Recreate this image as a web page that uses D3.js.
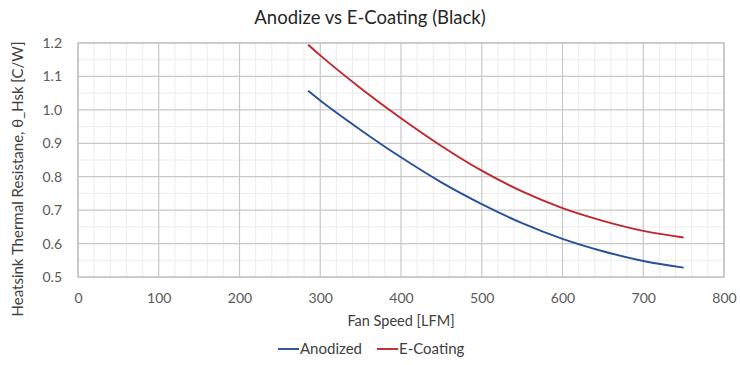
<!DOCTYPE html>
<html><head><meta charset="utf-8">
<script src="https://cdn.jsdelivr.net/npm/d3@7"></script>
<style>body{margin:0;background:#fff}</style>
</head><body>
<script>
const fanSpeed = [285, 300, 350, 400, 450, 500, 550, 600, 650, 700, 750];
const anodized = [1.057, 1.028, 0.940, 0.858, 0.783, 0.718, 0.661, 0.614, 0.577, 0.548, 0.528];
const eCoating = [1.195, 1.163, 1.065, 0.975, 0.892, 0.818, 0.756, 0.706, 0.668, 0.638, 0.618];
const xTicks = [0, 100, 200, 300, 400, 500, 600, 700, 800];
const yTicks = [0.5, 0.6, 0.7, 0.8, 0.9, 1.0, 1.1, 1.2];
const seriesNames = ["Anodized", "E-Coating"];
const seriesColors = ["#27509b", "#c0272d"];

const W = 740, H = 365;
const font = "Lato, 'Open Sans', sans-serif";
const svg = d3.select("body").append("svg").attr("width", W).attr("height", H);
const x = d3.scaleLinear().domain([0, 800]).range([78, 724]);
const y = d3.scaleLinear().domain([0.5, 1.2]).range([277, 43]);

// minor grid
const g = svg.append("g");
g.selectAll(".mx").data(d3.range(0, 801, 20).filter(v => v % 100 !== 0)).join("line")
  .attr("x1", d => x(d)).attr("x2", d => x(d)).attr("y1", y(1.2)).attr("y2", y(0.5))
  .attr("stroke", "#ececec").attr("stroke-width", 1);
g.selectAll(".my").data([0.55,0.65,0.75,0.85,0.95,1.05,1.15]).join("line")
  .attr("y1", d => y(d)).attr("y2", d => y(d)).attr("x1", x(0)).attr("x2", x(800))
  .attr("stroke", "#ececec").attr("stroke-width", 1);
// major grid
g.selectAll(".Mx").data(xTicks).join("line")
  .attr("x1", d => x(d)).attr("x2", d => x(d)).attr("y1", y(1.2)).attr("y2", y(0.5))
  .attr("stroke", "#c8c8c8").attr("stroke-width", 1.2);
g.selectAll(".My").data(yTicks).join("line")
  .attr("y1", d => y(d)).attr("y2", d => y(d)).attr("x1", x(0)).attr("x2", x(800))
  .attr("stroke", "#c8c8c8").attr("stroke-width", 1.2);
svg.append("rect").attr("x", x(0)).attr("y", y(1.2)).attr("width", x(800)-x(0)).attr("height", y(0.5)-y(1.2))
  .attr("fill", "none").attr("stroke", "#bdbdbd").attr("stroke-width", 1.2);

// axes via d3 axis
const xAxis = d3.axisBottom(x).tickValues(xTicks).tickSize(0).tickPadding(16).tickFormat(d3.format("d"));
const xg = svg.append("g").attr("transform", `translate(0,${y(0.5)})`).call(xAxis);
const yAxis = d3.axisLeft(y).tickValues(yTicks).tickSize(0).tickPadding(16).tickFormat(d3.format(".1f"));
const yg = svg.append("g").attr("transform", `translate(${x(0)},0)`).call(yAxis);
[xg, yg].forEach(a => {
  a.select(".domain").remove();
  a.selectAll("text").attr("font-family", font).attr("font-size", 14).attr("fill", "#595959");
});

// lines
const line = d3.line().x((d, i) => x(fanSpeed[i])).y(d => y(d)).curve(d3.curveMonotoneX);
[anodized, eCoating].forEach((s, i) => {
  svg.append("path").datum(s).attr("d", line).attr("fill", "none")
    .attr("stroke", seriesColors[i]).attr("stroke-width", 1.9);
});

// titles
svg.append("text").attr("x", 370).attr("y", 24).attr("text-anchor", "middle")
  .attr("font-family", font).attr("font-size", 18.5).attr("fill", "#262626").text("Anodize vs E-Coating (Black)");
svg.append("text").attr("x", 401).attr("y", 326).attr("text-anchor", "middle")
  .attr("font-family", font).attr("font-size", 14.5).attr("fill", "#404040").text("Fan Speed  [LFM]");
svg.append("text").attr("transform", "translate(23,179) rotate(-90)").attr("text-anchor", "middle")
  .attr("font-family", font).attr("font-size", 15).attr("fill", "#404040")
  .text("Heatsink Thermal Resistane, θ_Hsk [C/W]");

// legend
const legX = [278, 377];
seriesNames.forEach((n, i) => {
  svg.append("line").attr("x1", legX[i]).attr("x2", legX[i] + 21).attr("y1", 349).attr("y2", 349)
    .attr("stroke", seriesColors[i]).attr("stroke-width", 1.9);
  svg.append("text").attr("x", legX[i] + 22).attr("y", 354).attr("font-family", font)
    .attr("font-size", 15).attr("fill", "#404040").text(n);
});
</script>
</body></html>
